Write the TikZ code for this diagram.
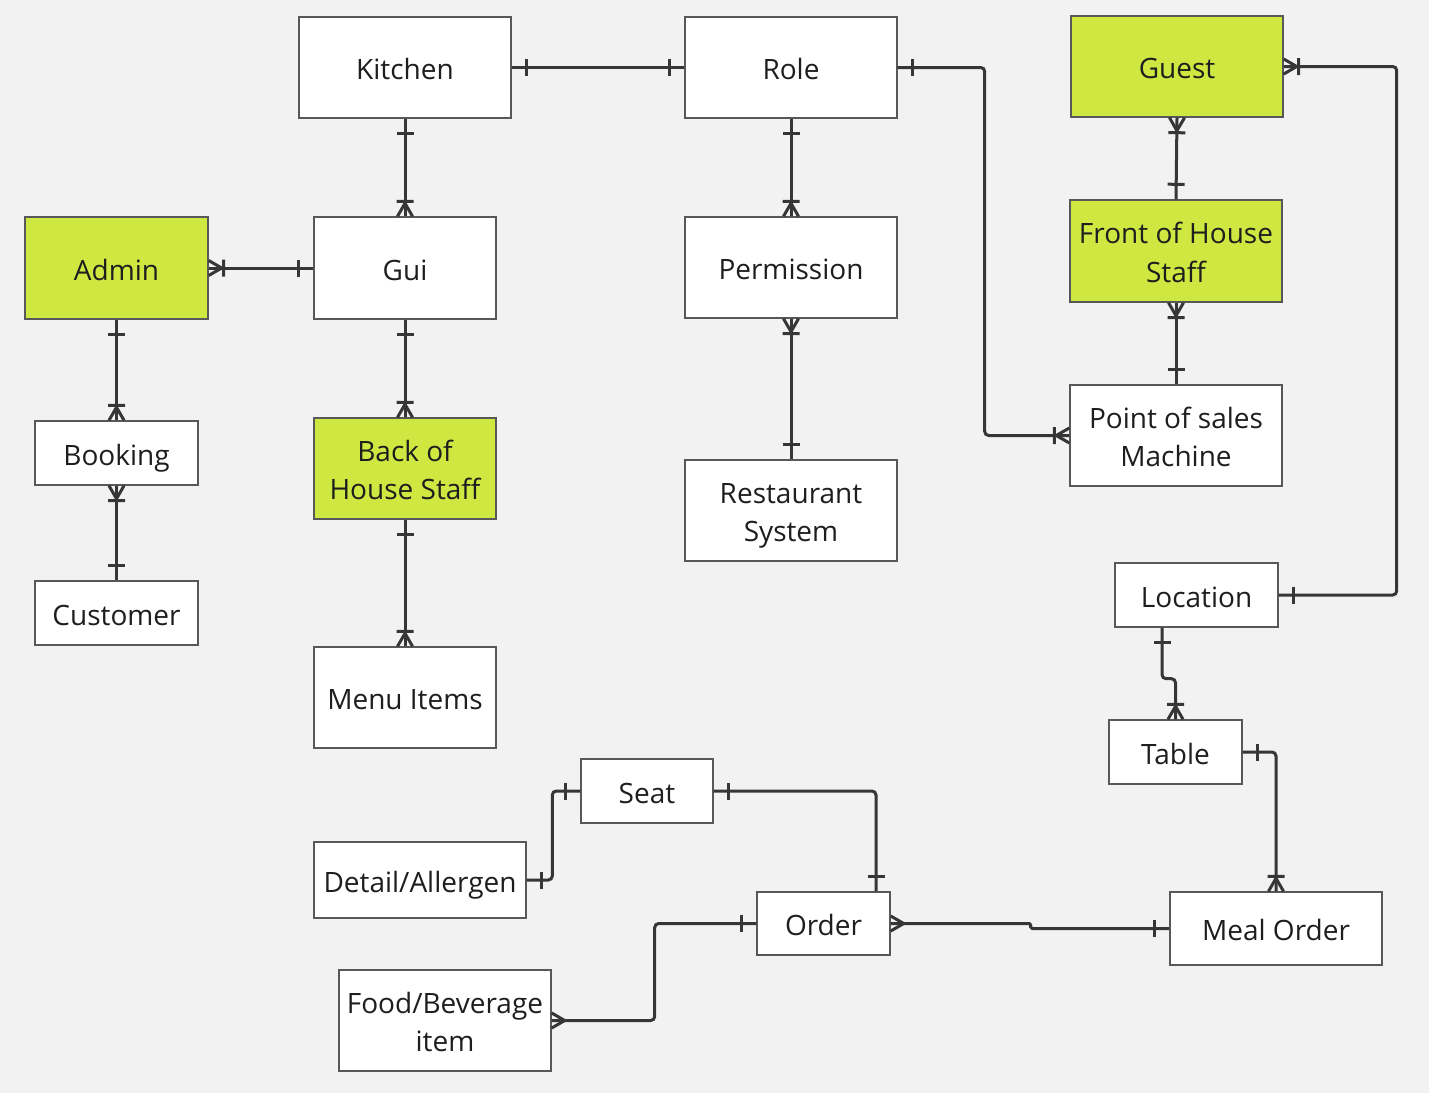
\documentclass[tikz,border=0pt]{standalone}
\usepackage{fontspec}
\setmainfont{Open Sans}
\usepackage{tikz}
\definecolor{bgc}{RGB}{242,242,242}
\definecolor{linec}{RGB}{54,54,54}
\definecolor{boxc}{RGB}{88,88,88}
\definecolor{limec}{RGB}{207,231,65}
\definecolor{txtc}{RGB}{30,30,30}
\pgfdeclarearrow{
  name = oneTip,
  setup code = {
    \pgfarrowssettipend{0pt}
    \pgfarrowssetlineend{0pt}
    \pgfarrowssetbackend{-16pt}
  },
  drawing code = {
    \pgfsetdash{}{0pt}
    \pgfsetlinewidth{3pt}
    \pgfsetbuttcap
    \pgfpathmoveto{\pgfqpoint{-15pt}{-8.5pt}}
    \pgfpathlineto{\pgfqpoint{-15pt}{8.5pt}}
    \pgfusepathqstroke
  },
  parameters = {\the\pgflinewidth},
}
\pgfdeclarearrow{
  name = crowTip,
  setup code = {
    \pgfarrowssettipend{0pt}
    \pgfarrowssetlineend{0pt}
    \pgfarrowssetbackend{-14pt}
  },
  drawing code = {
    \pgfsetdash{}{0pt}
    \pgfsetlinewidth{3pt}
    \pgfsetroundjoin
    \pgfpathmoveto{\pgfqpoint{0pt}{7.5pt}}
    \pgfpathlineto{\pgfqpoint{-13pt}{0pt}}
    \pgfpathlineto{\pgfqpoint{0pt}{-7.5pt}}
    \pgfusepathqstroke
  },
  parameters = {\the\pgflinewidth},
}
\pgfdeclarearrow{
  name = crowBarTip,
  setup code = {
    \pgfarrowssettipend{0pt}
    \pgfarrowssetlineend{0pt}
    \pgfarrowssetbackend{-16pt}
  },
  drawing code = {
    \pgfsetdash{}{0pt}
    \pgfsetlinewidth{3pt}
    \pgfsetroundjoin
    \pgfpathmoveto{\pgfqpoint{0pt}{7.5pt}}
    \pgfpathlineto{\pgfqpoint{-13pt}{0pt}}
    \pgfpathlineto{\pgfqpoint{0pt}{-7.5pt}}
    \pgfpathmoveto{\pgfqpoint{-15pt}{-8.5pt}}
    \pgfpathlineto{\pgfqpoint{-15pt}{8.5pt}}
    \pgfusepathqstroke
  },
  parameters = {\the\pgflinewidth},
}
\tikzset{
  entity/.style={draw=boxc, line width=1.4pt, fill=white, rectangle, inner sep=0pt,
    align=center, text=txtc, font=\fontsize{28}{38.5}\selectfont,
    text height=24pt, text depth=0pt},
  staff/.style={entity, fill=limec},
  twoline/.style={text height=62.5pt},
  link/.style={draw=linec, line width=3pt, rounded corners=4pt},
}

\begin{document}
\begin{tikzpicture}[x=1pt, y=-1pt]
    \fill[bgc] (0,0) rectangle (1429,1093);
    \useasboundingbox (0,0) rectangle (1429,1093);
    \node[entity, minimum width=212pt, minimum height=101pt] (Kit) at (405,67.5) {Kitchen};
    \node[entity, minimum width=212pt, minimum height=101pt] (Role) at (791,67.5) {Role};
    \node[staff, minimum width=212pt, minimum height=101pt] (Guest) at (1177,66.5) {Guest};
    \node[staff, minimum width=183pt, minimum height=102pt] (Adm) at (116.5,268) {Admin};
    \node[entity, minimum width=182pt, minimum height=102pt] (Gui) at (405,268) {Gui};
    \node[entity, minimum width=212pt, minimum height=101pt] (Perm) at (791,267.5) {Permission};
    \node[staff, twoline, minimum width=212pt, minimum height=102pt] (FoH) at (1176,251) {Front of House\\Staff};
    \node[entity, twoline, minimum width=212pt, minimum height=101pt] (PoS) at (1176,435.5) {Point of sales\\Machine};
    \node[entity, minimum width=163pt, minimum height=64pt] (Book) at (116.5,453) {Booking};
    \node[staff, twoline, minimum width=182pt, minimum height=101pt] (BoH) at (405,468.5) {Back of\\House Staff};
    \node[entity, twoline, minimum width=212pt, minimum height=101pt] (RS) at (791,510.5) {Restaurant\\System};
    \node[entity, minimum width=163pt, minimum height=64pt] (Cust) at (116.5,613) {Customer};
    \node[entity, minimum width=163pt, minimum height=64pt] (Loc) at (1196.5,595) {Location};
    \node[entity, minimum width=182pt, minimum height=101pt] (Menu) at (405,697.5) {Menu Items};
    \node[entity, minimum width=133pt, minimum height=64pt] (Tab) at (1175.5,752) {Table};
    \node[entity, minimum width=132pt, minimum height=64pt] (Seat) at (647,791) {Seat};
    \node[entity, minimum width=212pt, minimum height=76pt] (Det) at (420,880) {Detail/Allergen};
    \node[entity, minimum width=133pt, minimum height=63pt] (Ord) at (823.5,923.5) {Order};
    \node[entity, minimum width=212pt, minimum height=73pt] (Meal) at (1276,928.5) {Meal Order};
    \node[entity, twoline, minimum width=212pt, minimum height=101pt] (Food) at (445,1020.5) {Food/Beverage\\item};
    \draw[link, oneTip-oneTip] (Kit) -- (Role);
    \draw[link, oneTip-crowBarTip] (Kit) -- (Gui);
    \draw[link, oneTip-crowBarTip] (Role) -- (Perm);
    \draw[link, crowBarTip-oneTip] (Perm) -- (RS);
    \draw[link, oneTip-crowBarTip] (Role.east) -- ++(87,0) |- (PoS.west);
    \draw[link, crowBarTip-oneTip] (Guest.south) -- (FoH.north);
    \draw[link, crowBarTip-oneTip] (FoH) -- (PoS);
    \draw[link, crowBarTip-oneTip] (Guest.east) -- ++(113,0) |- (Loc.east);
    \draw[link, crowBarTip-oneTip] (Adm) -- (Gui);
    \draw[link, oneTip-crowBarTip] (Adm) -- (Book);
    \draw[link, crowBarTip-oneTip] (Book) -- (Cust);
    \draw[link, oneTip-crowBarTip] (Gui) -- (BoH);
    \draw[link, oneTip-crowBarTip] (BoH) -- (Menu);
    \draw[link, oneTip-crowBarTip] ([xshift=-34.5pt]Loc.south) -- ++(0,51) -| (Tab.north);
    \draw[link, oneTip-crowBarTip] (Tab.east) -| (Meal.north);
    \draw[link, oneTip-oneTip] (Seat.west) -- ++(-28,0) |- (Det.east);
    \draw[link, oneTip-oneTip] (Seat.east) -| ([xshift=52.5pt]Ord.north);
    \draw[link, rounded corners=1.5pt, crowTip-oneTip] (Ord.east) -- ++(140,0) |- (Meal.west);
    \draw[link, crowTip-oneTip] (Food.east) -- ++(103,0) |- (Ord.west);
  \end{tikzpicture}
\end{document}
